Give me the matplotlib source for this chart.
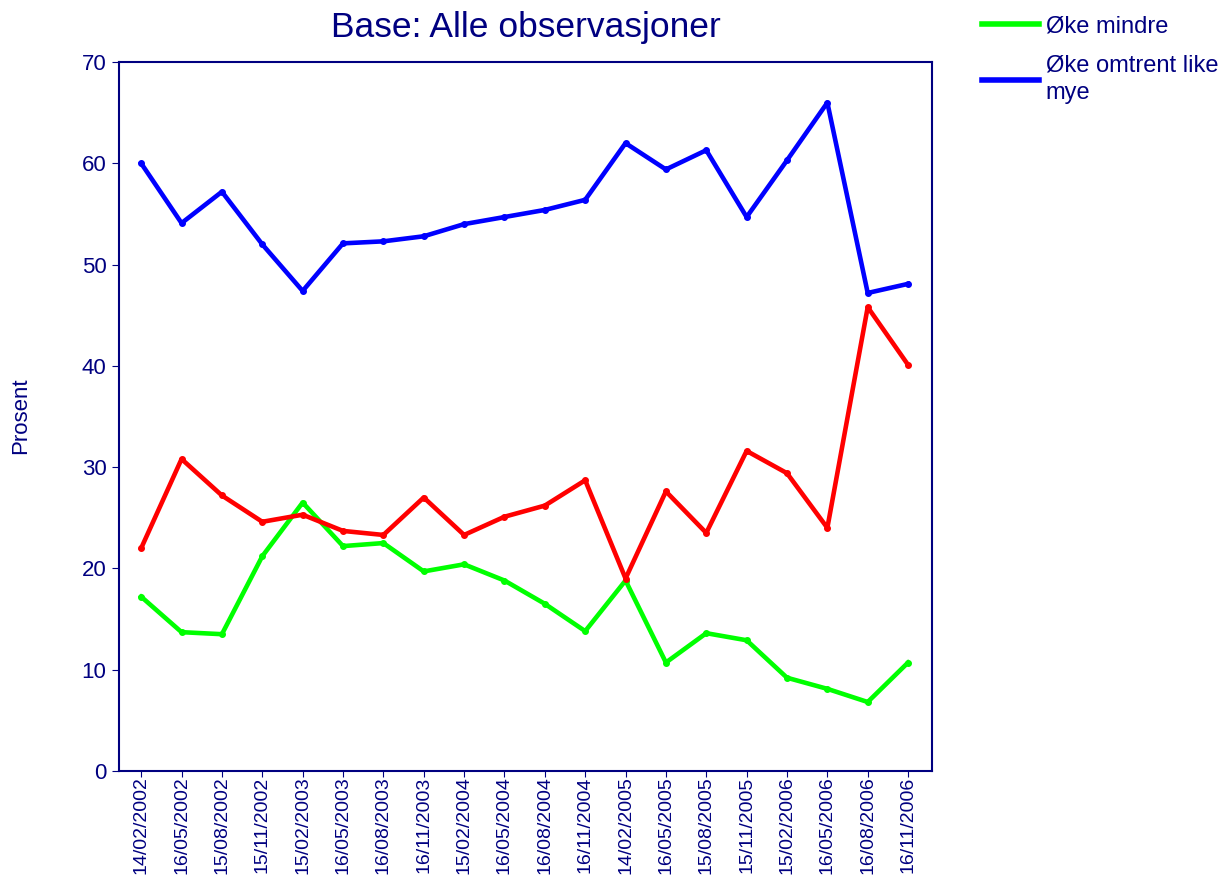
import matplotlib
matplotlib.use("Agg")
import matplotlib.pyplot as plt
from matplotlib.lines import Line2D

plt.rcParams['font.family'] = ['Liberation Sans', 'DejaVu Sans']

NAVY = '#000080'

dates = ['14/02/2002', '16/05/2002', '15/08/2002', '15/11/2002', '15/02/2003',
         '16/05/2003', '16/08/2003', '16/11/2003', '15/02/2004', '16/05/2004',
         '16/08/2004', '16/11/2004', '14/02/2005', '16/05/2005', '15/08/2005',
         '15/11/2005', '15/02/2006', '16/05/2006', '16/08/2006', '16/11/2006']

# Øke mindre
green = [17.2, 13.7, 13.5, 21.2, 26.5, 22.2, 22.5, 19.7, 20.4, 18.8,
         16.5, 13.8, 18.8, 10.7, 13.6, 12.9, 9.2, 8.1, 6.8, 10.7]
# Øke omtrent like mye
blue = [60.0, 54.1, 57.2, 52.0, 47.4, 52.1, 52.3, 52.8, 54.0, 54.7,
        55.4, 56.4, 62.0, 59.4, 61.3, 54.7, 60.3, 66.0, 47.2, 48.1]
# third series (its legend entry is cut off in the original)
red = [22.0, 30.8, 27.2, 24.6, 25.3, 23.7, 23.3, 27.0, 23.3, 25.1,
       26.2, 28.7, 19.0, 27.6, 23.5, 31.6, 29.4, 24.0, 45.8, 40.1]

fig = plt.figure(figsize=(12.23, 8.75), dpi=100)
ax = fig.add_axes([0.0973, 0.119, 0.665, 0.81])

x = list(range(len(dates)))
ax.plot(x, green, color='#00FF00', lw=3.3, marker='o', ms=4)
ax.plot(x, blue, color='#0000FF', lw=3.3, marker='o', ms=4)
ax.plot(x, red, color='#FF0000', lw=3.3, marker='o', ms=4)

ax.set_xlim(-0.55, 19.6)
ax.set_ylim(0, 70)
ax.set_yticks(range(0, 71, 10))
ax.set_xticks(x)
ax.set_xticklabels(dates, rotation=90, fontsize=14, color=NAVY)
ax.tick_params(axis='y', labelsize=16, labelcolor=NAVY, color=NAVY, length=5, pad=4)
ax.tick_params(axis='x', color=NAVY, length=4, pad=0)
for s in ax.spines.values():
    s.set_color(NAVY)
    s.set_linewidth(1.5)

fig.text(0.4297, 0.968, 'Base: Alle observasjoner', fontsize=25.5, color=NAVY,
         ha='center', va='center')
fig.text(0.008, 0.525, 'Prosent', rotation=90, fontsize=16, color=NAVY,
         ha='left', va='center')

handles = [Line2D([], [], color='#00FF00', lw=4),
           Line2D([], [], color='#0000FF', lw=4)]
leg = fig.legend(handles, ['Øke mindre', 'Øke omtrent like\nmye'],
                 loc='upper left', bbox_to_anchor=(0.799, 0.988), frameon=False,
                 borderpad=0.2, borderaxespad=0, fontsize=17, labelcolor=NAVY,
                 handlelength=2.4, handletextpad=0.3, labelspacing=0.75)
for t in leg.get_texts():
    t.set_linespacing(1.3)

fig.savefig('out.png', dpi=100)
